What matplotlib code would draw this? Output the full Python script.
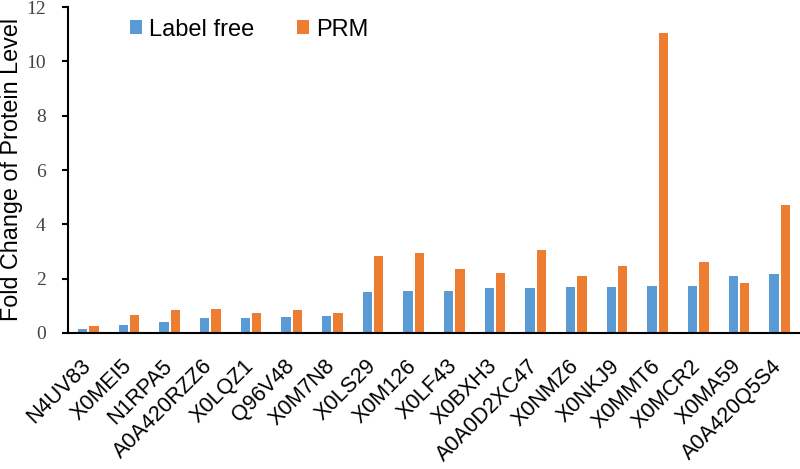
import numpy as np
import matplotlib.pyplot as plt
from matplotlib.transforms import ScaledTranslation

proteins = ["N4UV83", "X0MEI5", "N1RPA5", "A0A420RZZ6", "X0LQZ1", "Q96V48",
            "X0M7N8", "X0LS29", "X0M126", "X0LF43", "X0BXH3", "A0A0D2XC47",
            "X0NMZ6", "X0NKJ9", "X0MMT6", "X0MCR2", "X0MA59", "A0A420Q5S4"]
label_free = [0.15, 0.29, 0.41, 0.54, 0.54, 0.58, 0.63, 1.51, 1.53, 1.54,
              1.66, 1.67, 1.69, 1.70, 1.73, 1.74, 2.11, 2.16]
prm = [0.26, 0.67, 0.85, 0.90, 0.73, 0.83, 0.73, 2.85, 2.93, 2.37,
       2.21, 3.06, 2.11, 2.48, 11.05, 2.62, 1.83, 4.73]
y_ticks = [0, 2, 4, 6, 8, 10, 12]

blue = "#5B9BD5"
orange = "#ED7D31"

fig = plt.figure(figsize=(8, 4.69), dpi=100)
ax = fig.add_axes([0.085, 0.29, 0.915, 0.695])

x = np.arange(len(proteins))
w = 0.23
ax.bar(x - 0.14, label_free, w, color=blue, label="Label free")
ax.bar(x + 0.14, prm, w, color=orange, label="PRM")

ax.set_xlim(-0.5, len(proteins) - 0.5)
ax.set_ylim(0, 12)
ax.set_yticks(y_ticks)
ax.set_yticklabels([str(t) for t in y_ticks], family="Liberation Serif",
                   fontsize=14, color="#444444")
ax.set_xticks(x)
ax.set_xticklabels(proteins, rotation=45, ha="right", rotation_mode="anchor",
                   family="Liberation Sans", fontsize=15.5)
ax.tick_params(axis="x", length=0, pad=9)
ax.tick_params(axis="y", length=4, width=1.5, pad=12)

# nudge the rotated labels down-left like in the original
shift = ScaledTranslation(-8 / 100, -10 / 100, fig.dpi_scale_trans)
for lbl in ax.get_xticklabels():
    lbl.set_transform(lbl.get_transform() + shift)

for s in ["top", "right"]:
    ax.spines[s].set_visible(False)
ax.spines["left"].set_linewidth(1.5)
ax.spines["bottom"].set_linewidth(1.5)

ax.set_ylabel("Fold Change of Protein Level", family="Liberation Sans",
              fontsize=16.8)
ax.yaxis.set_label_coords(-0.061, 0.503)

ax.legend(loc="upper left", bbox_to_anchor=(0.056, 1.03), ncol=2, frameon=False,
          prop={"family": "Liberation Sans", "size": 17},
          handlelength=0.5, handleheight=0.5, columnspacing=1.8, handletextpad=0.3)

fig.savefig("out.png", dpi=100)
